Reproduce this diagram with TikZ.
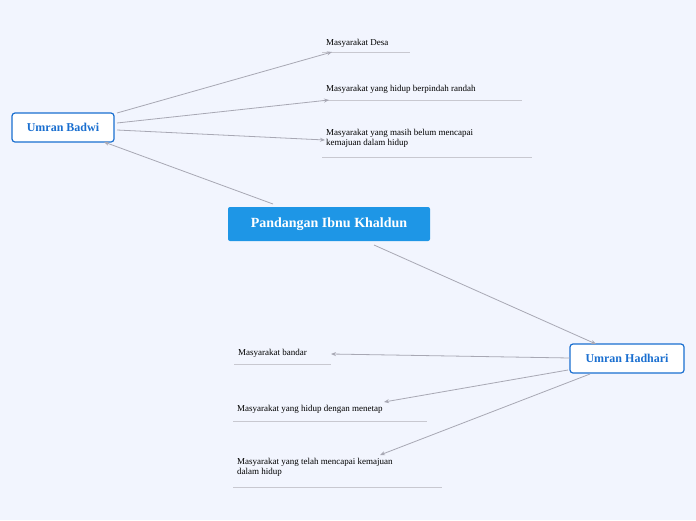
\documentclass[tikz,border=0pt]{standalone}
\usepackage{fontspec}
\setmainfont{Liberation Serif}
\usetikzlibrary{arrows.meta}
\definecolor{bg}{HTML}{F2F5FE}
\definecolor{mainblue}{HTML}{1E96E6}
\definecolor{subblue}{HTML}{1A6FD0}
\definecolor{conn}{HTML}{A8A8B4}
\definecolor{uline}{HTML}{C8C8D0}
\tikzset{
  x=1pt,y=-1pt,
  mainbox/.style={fill=mainblue,text=white,font=\bfseries\fontsize{14}{16}\selectfont,minimum width=202pt,minimum height=34pt,rounded corners=2pt,inner sep=0pt},
  subbox/.style={fill=white,draw=subblue,line width=1.2pt,text=subblue,font=\bfseries\fontsize{12}{14}\selectfont,minimum height=29pt,rounded corners=3pt,inner sep=0pt},
  leaf/.style={font=\fontsize{9}{10.5}\selectfont,anchor=north west,inner sep=0pt,align=left},
  uline/.style={draw=uline,line width=0.6pt},
  link/.style={draw=conn,line width=0.8pt,-{Stealth[length=5pt,width=4pt]}},
}
\begin{document}
\begin{tikzpicture}
\fill[bg] (0,0) rectangle (696,520);
\useasboundingbox (0,0) rectangle (696,520);
\node[mainbox] (main) at (329,224) {Pandangan Ibnu Khaldun};
\node[subbox,minimum width=102pt] (badwi) at (63,127.5) {Umran Badwi};
\node[subbox,minimum width=114pt] (hadhari) at (627,358.5) {Umran Hadhari};
% leaves
\node[leaf] (l1) at (326,39) {Masyarakat Desa};
\draw[uline] (322,52) -- (410,52);
\node[leaf] (l2) at (326,85) {Masyarakat yang hidup berpindah randah};
\draw[uline] (322,100) -- (522,100);
\node[leaf] (l3) at (326,129) {Masyarakat yang masih belum mencapai\\kemajuan dalam hidup};
\draw[uline] (322,157) -- (532,157);
\node[leaf] (r1) at (238,349) {Masyarakat bandar};
\draw[uline] (234,364) -- (331,364);
\node[leaf] (r2) at (237,405) {Masyarakat yang hidup dengan menetap};
\draw[uline] (233,421) -- (427,421);
\node[leaf] (r3) at (237,458) {Masyarakat yang telah mencapai kemajuan\\dalam hidup};
\draw[uline] (233,487) -- (442,487);
% endpoints
\coordinate (m1) at (273,204);
\coordinate (m2) at (374,245);
\coordinate (b0) at (104,142);
\coordinate (h0) at (596,344);
\coordinate (b1) at (117,113);
\coordinate (b2) at (117,123);
\coordinate (b3) at (117,130);
\coordinate (e1) at (332,52);
\coordinate (e2) at (329,100);
\coordinate (e3) at (325,140);
\coordinate (h1) at (570,358);
\coordinate (h2) at (568,370);
\coordinate (h3) at (590,374);
\coordinate (f1) at (331,354);
\coordinate (f2) at (384,402);
\coordinate (f3) at (380,455);
\draw[link] (m1) -- (b0);
\draw[link] (m2) -- (h0);
\draw[link] (b1) -- (e1);
\draw[link] (b2) -- (e2);
\draw[link] (b3) -- (e3);
\draw[link] (h1) -- (f1);
\draw[link] (h2) -- (f2);
\draw[link] (h3) -- (f3);
\end{tikzpicture}
\end{document}
